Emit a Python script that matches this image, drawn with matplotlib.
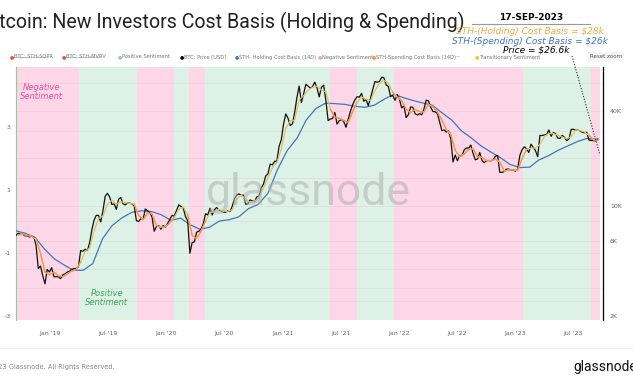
import numpy as np
import pandas as pd
import matplotlib
matplotlib.use("Agg")
import matplotlib.pyplot as plt
import matplotlib.dates as mdates
from matplotlib.ticker import FixedLocator, NullLocator, NullFormatter

# ---------------- data ----------------
# BTC price, weekly closes from 2018-09-16
price = [
    # 2018
    6500, 6700, 6600, 6600, 6450, 6450, 6350, 6400, 6350, 5600, 4000, 4150, 3600, 3200, 3950, 3800,
    # 2019
    4050, 3550, 3550, 3550, 3450, 3650, 3700, 3800, 3850, 3950, 4000, 4000, 4100,
    5200, 5150, 5300, 5200, 5800, 7000, 8100, 8700, 8700, 7900, 9300, 11500, 12000,
    11400, 10200, 10300, 9500, 11000, 11300, 10300, 10150, 10400, 10400, 10300, 10000, 8050,
    7950, 8300, 8200, 9550, 9300, 9050, 8500, 6900, 7400, 7500, 7100, 7500, 7300,
    # 2020
    7750, 8200, 8700, 8600, 9350, 10150, 9900, 9700, 8550, 8050, 5000, 5850, 5900,
    6800, 6900, 7100, 7700, 8900, 8750, 9650, 8750, 9450, 9750, 9400, 9300, 9100,
    9100, 9300, 9200, 9950, 11100, 11700, 11900, 11650, 11700, 10250, 10300, 10900, 10750,
    10650, 11400, 11500, 13000, 13750, 15450, 15950, 18400, 18200, 19150, 19250, 23800, 26300,
    # 2021
    33000, 38300, 36000, 32300, 33100, 39200, 48700, 57500, 45200, 51200, 59000, 57500, 55800,
    57000, 61000, 56200, 49100, 56600, 58200, 46400, 34700, 35600, 35800, 39100, 33000, 34700,
    35300, 34250, 31500, 35400, 39800, 43800, 47000, 49300, 48900, 51700, 46100, 47300, 43200,
    48200, 54700, 61500, 60900, 61300, 65500, 65000, 58600, 57200, 49400, 50100, 46700, 50800,
    # 2022
    47300, 41800, 43100, 36300, 37900, 42400, 42200, 38400, 37700, 38400, 37800, 41300, 46800,
    46400, 42200, 39700, 39500, 38500, 34100, 30000, 30300, 29400, 29900, 26600, 19000, 21000,
    19300, 20900, 20800, 22600, 23300, 23200, 24300, 21500, 19600, 19800, 21800, 19400, 18800,
    19300, 19400, 19300, 19600, 20600, 20900, 16300, 16300, 16500, 17100, 17100, 16800, 16850,
    # 2023
    16600, 17100, 20900, 22700, 23700, 23000, 21800, 24600, 23500, 22400, 20500, 28000, 27900,
    28200, 28300, 30300, 27600, 29200, 28700, 26900, 26800, 28000, 27200, 25900, 26500, 30500,
    30600, 30200, 30250, 29800, 29300, 29100, 29300, 26100, 26000, 25900, 25800, 26600,
]

# STH spending cost basis (fast line), every other week from 2018-09-23
spend = [
    6550, 6600, 6500, 6400, 6150, 5000, 3800, 3650,
    3800, 3600, 3550, 3700, 3850, 3950, 4400, 5100, 5400, 6900, 8300, 8600, 10200,
    10900, 10200, 10600, 10500, 10350, 10250, 8700, 8150, 9000, 8900, 7500, 7300, 7350,
    7800, 8450, 9500, 9850, 8800, 6500, 6200, 6900, 8000, 9000, 9200, 9500, 9250,
    9200, 9450, 11000, 11700, 11000, 10500, 10750, 11200, 13000, 15000, 17500, 18800, 23000,
    31000, 34500, 35000, 47000, 50000, 54000, 56500, 57500, 54000, 53000, 41000, 36500, 36000,
    34800, 33800, 39500, 45500, 49000, 47500, 46500, 54000, 60000, 62500, 60000, 52500, 49000,
    46500, 41000, 39000, 41000, 39500, 39500, 44000, 42500, 39500, 35000, 30500, 28500, 22500,
    20500, 21300, 22800, 23000, 20500, 20300, 19400, 19300, 19800, 19000, 16600, 16900, 16900,
    16800, 20000, 22800, 23200, 23300, 24500, 27500, 28800, 28700, 28100, 27300, 26700, 27500,
    30200, 30000, 29400, 28000, 26200, 26000,
]

# STH holding cost basis (slow line), monthly on the 15th from 2018-09
hold = [
    6950, 6700, 6300, 5300,
    4600, 4200, 3900, 3900, 4300, 6200, 7500, 8400, 9100, 9300, 9200, 8800,
    8100, 8350, 7600, 7100, 7300, 8000, 8150, 8500, 9600, 10200, 12000, 17000,
    22500, 27000, 35000, 41500, 44800, 44500, 44000, 42800, 42200, 43500, 47500, 51000,
    48500, 46500, 45000, 43500, 39000, 35000, 30000, 27000, 24000, 22000, 20200, 18300,
    17500, 17600, 19500, 20800, 22500, 24000, 25600, 26800, 26400,
]

price_dates = pd.date_range("2018-09-16", periods=len(price), freq="7D")
spend_dates = price_dates[1::2][:len(spend)]
hold_dates = pd.date_range("2018-09-01", periods=len(hold), freq="MS") + pd.Timedelta(days=14)

neg_starts = ["2018-09-16", "2019-10-01", "2020-03-12", "2021-05-28", "2021-12-15", "2023-08-27"]
neg_ends = ["2019-04-02", "2020-01-25", "2020-05-02", "2021-08-21", "2023-01-26", "2023-09-24"]
pos_starts = ["2019-04-02", "2020-01-25", "2020-05-02", "2021-08-21", "2023-01-26"]
pos_ends = ["2019-10-01", "2020-03-12", "2021-05-28", "2021-12-15", "2023-08-27"]

x_start, x_end = "2018-09-16", "2023-10-03"
tick_dates = pd.date_range("2019-01-01", "2023-07-01", freq="6MS")
price_ticks = [2000, 6000, 10000, 40000]
price_tick_labels = ["2K", "6K", "10K", "40K"]
left_ticks = [-3, -1, 1, 3]

PINK = "#fdd6e8"
GREEN = "#ddf1e6"
ORANGE = "#f5944a"
GOLD = "#e2c060"
BLUE = "#3f78b8"
GREY = "#666666"

# ---------------- figure ----------------
W, H = 633, 380
fig = plt.figure(figsize=(W / 100, H / 100), dpi=100)
fig.patch.set_facecolor("white")

def fx(px):
    return px / W

def fy(py):
    return 1 - py / H

ax = fig.add_axes([fx(16), fy(320), fx(603) - fx(16), fy(67) - fy(320)])
ax2 = ax.twinx()

for s, e in zip(neg_starts, neg_ends):
    ax.axvspan(pd.Timestamp(s), pd.Timestamp(e), color=PINK, lw=0, zorder=0)
for s, e in zip(pos_starts, pos_ends):
    ax.axvspan(pd.Timestamp(s), pd.Timestamp(e), color=GREEN, lw=0, zorder=0)

ax.set_ylim(-3.13, 4.9)
ax.set_xlim(pd.Timestamp(x_start), pd.Timestamp(x_end))
ax.yaxis.set_major_locator(FixedLocator(left_ticks))
ax.set_yticklabels([str(t) for t in left_ticks])
ax.tick_params(axis="y", length=0, labelsize=4.5, labelcolor=GREY, pad=4)

ax.xaxis.set_major_locator(FixedLocator(mdates.date2num(tick_dates)))
ax.set_xticklabels([d.strftime("%b '%y") for d in tick_dates])
ax.tick_params(axis="x", length=0, labelsize=4.5, labelcolor=GREY, pad=8)

for side in ["top", "bottom", "right"]:
    ax.spines[side].set_visible(False)
ax.spines["left"].set_color("#8fcf98")
ax.spines["left"].set_linewidth(0.8)

# price axis
ax2.set_yscale("log")
ax2.set_ylim(1886, 76000)
ax2.yaxis.set_major_locator(FixedLocator(price_ticks))
ax2.yaxis.set_minor_locator(NullLocator())
ax2.yaxis.set_minor_formatter(NullFormatter())
ax2.set_yticklabels(price_tick_labels)
ax2.tick_params(axis="y", length=0, labelsize=4.5, labelcolor=GREY, pad=5)
for side in ["top", "bottom", "left"]:
    ax2.spines[side].set_visible(False)
ax2.spines["right"].set_color("black")
ax2.spines["right"].set_linewidth(0.9)

for g in [2500, 3000, 4000, 5000, 6000, 8000, 10000, 15000, 20000, 30000, 40000, 60000]:
    ax2.axhline(g, color="black", alpha=0.045, lw=0.6, zorder=1)

# lines
ax2.plot(hold_dates, hold, color=BLUE, lw=0.9, zorder=3)
ax2.plot(price_dates, price, color="#111111", lw=0.9, zorder=4)
ax2.plot(spend_dates, spend, color=GOLD, lw=0.9, zorder=5)
sd = np.asarray(spend_dates)
sv = np.asarray(spend, dtype=float)
for s, e in zip(neg_starts, neg_ends):
    m = (sd >= np.datetime64(pd.Timestamp(s) - pd.Timedelta(days=10))) & \
        (sd <= np.datetime64(pd.Timestamp(e) + pd.Timedelta(days=10)))
    ax2.plot(sd[m], sv[m], color=ORANGE, lw=0.9, zorder=5)

# watermark
fig.text(fx(308), fy(193), "glassnode", fontsize=32, color="#b0b0b0", alpha=0.55,
         ha="center", va="center", family="Roboto", zorder=10)

# sentiment labels
fig.text(fx(42), fy(92), "Negative\nSentiment", fontsize=6, color="#e0509a", style="italic",
         ha="center", va="center", linespacing=1.1)
fig.text(fx(107), fy(298), "Positive\nSentiment", fontsize=6, color="#3aa856", style="italic",
         ha="center", va="center", linespacing=1.1)

# title
fig.text(fx(465), fy(22), "Bitcoin: New Investors Cost Basis (Holding & Spending)",
         fontsize=14.1, family="Roboto", color="#222222", ha="right", va="center")

# date annotation block
fig.text(fx(531), fy(17), "17-SEP-2023", fontsize=6.5, weight="bold", ha="center", va="center")
fig.add_artist(plt.Line2D([fx(472), fx(590)], [fy(24), fy(24)], color="#999999", lw=0.8))
fig.text(fx(530), fy(31), "STH-(Holding) Cost Basis = $28k", fontsize=6.5, style="italic",
         color="#f2a93b", ha="center", va="center")
fig.text(fx(530), fy(41), "STH-(Spending) Cost Basis = $26k", fontsize=6.5, style="italic",
         color=BLUE, ha="center", va="center")
fig.text(fx(536), fy(50), "Price = $26.6k", fontsize=6.5, style="italic",
         color="black", ha="center", va="center")
fig.add_artist(plt.Line2D([fx(572), fx(600)], [fy(56), fy(155)], color="#333333",
                          lw=0.8, ls=(0, (1, 1.5))))

# legend row
legend_items = [
    ("BTC: STH-SOPR", "#e0503a", True),
    ("BTC: STH-MVRV", "#e0503a", True),
    ("Positive Sentiment", "#8fd0a0", False),
    ("BTC: Price [USD]", "black", False),
    ("STH- Holding Cost Basis (14D)", BLUE, False),
    ("Negative Sentiment", "#f59ac4", False),
    ("STH-Spending Cost Basis (14D)", ORANGE, False),
    ("---", "#999999", False),
    ("Transitionary Sentiment", "#f2c230", False),
]
legend_x = [10, 62, 118, 180, 235, 318, 372, 455, 475]
for (label, col, struck), lx in zip(legend_items, legend_x):
    if label == "---":
        fig.text(fx(lx), fy(57), "\u2014", fontsize=4, color=col, va="center")
        continue
    fig.text(fx(lx), fy(57), "\u25cf", fontsize=3.5, color=col, va="center")
    fig.text(fx(lx + 4), fy(57), label, fontsize=3.7, color="#777777", va="center")
    if struck:
        fig.add_artist(plt.Line2D([fx(lx + 4), fx(lx + 4 + len(label) * 2.6)],
                                  [fy(57), fy(57)], color="#999999", lw=0.4))
fig.text(fx(606), fy(57), "Reset zoom", fontsize=4, color="#555555", ha="center", va="center",
         bbox=dict(boxstyle="square,pad=0.4", fc="#f5f5f5", ec="none"))

# footer
fig.add_artist(plt.Line2D([0, 1], [fy(348), fy(348)], color="#eeeeee", lw=0.8))
fig.text(fx(-19), fy(367), "\u00a9 2023 Glassnode. All Rights Reserved.", fontsize=4.8,
         color="#888888", va="center")
fig.text(fx(637), fy(367), "glassnode", fontsize=10, color="#111111", ha="right",
         va="center", family="Roboto")

fig.savefig("out.png", dpi=100, facecolor="white")
